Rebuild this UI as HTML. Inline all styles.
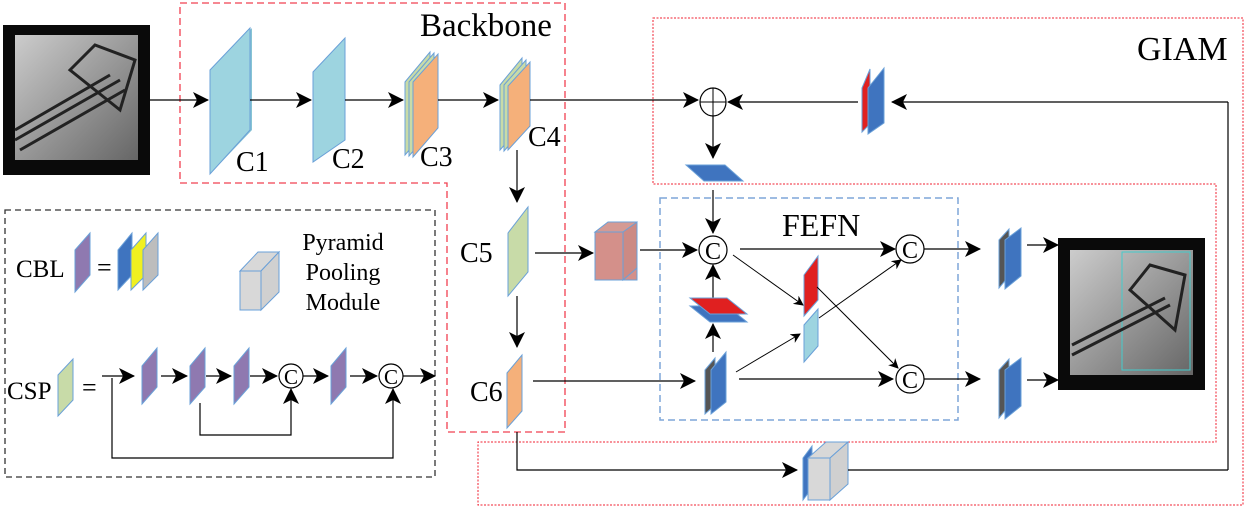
<!DOCTYPE html>
<html><head><style>body{margin:0;background:#fff}svg{display:block}text{font-family:"Liberation Serif",serif;fill:#000}</style></head>
<body>
<svg width="1250" height="510" viewBox="0 0 1250 510" xmlns="http://www.w3.org/2000/svg">
<defs>
<marker id="a" markerWidth="10" markerHeight="10" refX="9" refY="5" orient="auto" markerUnits="userSpaceOnUse"><path d="M0,0 L10,5 L0,10 L3,5 Z" fill="#000"/></marker>
<marker id="b" markerWidth="16" markerHeight="16" refX="15" refY="8" orient="auto" markerUnits="userSpaceOnUse"><path d="M0,0 L16,8 L0,16 L4,8 Z" fill="#000"/></marker>
<linearGradient id="g" x1="0" y1="0" x2="1" y2="1"><stop offset="0" stop-color="#ccc"/><stop offset="0.5" stop-color="#999"/><stop offset="1" stop-color="#666"/></linearGradient>
</defs>
<path d="M180,3 H565 V432 H447 V183 H180 Z" fill="none" stroke="#f04050" stroke-width="1.3" stroke-dasharray="7,4"/>
<text x="420" y="36" font-size="33">Backbone</text>
<path d="M653,18 H1243 V505 H478 V442 H1216 V184 H653 Z" fill="none" stroke="#f02030" stroke-width="1" stroke-dasharray="2,1.5"/>
<text x="1137" y="60" font-size="34">GIAM</text>
<rect x="660" y="198" width="298" height="222" fill="none" stroke="#7fa6d8" stroke-width="1.5" stroke-dasharray="7,4"/>
<text x="782" y="236" font-size="32">FEFN</text>
<rect x="5" y="210" width="430" height="267" fill="none" stroke="#333" stroke-width="1.3" stroke-dasharray="6,4"/>

<rect x="3" y="25" width="147" height="150" fill="#0a0a0a"/>
<rect x="15" y="35" width="123" height="125" fill="url(#g)"/>
<path d="M15,140 L120,80 M15,130 L110,75 M20,150 L125,90" stroke="#222" stroke-width="3"/>
<path d="M70,70 L95,45 L135,60 L120,110 Z" fill="none" stroke="#222" stroke-width="3"/>
<line x1="150" y1="100" x2="208" y2="100" stroke="#000" stroke-width="1.2" marker-end="url(#b)"/>

<polygon points="212,70 252,28 252,130 212,172" fill="#87c4d4"/>
<polygon points="210,70 250,28 250,130 210,174" fill="#9dd4e0" stroke="#6aa0d8"/>
<text x="236" y="171" font-size="28">C1</text>
<line x1="250" y1="100" x2="311" y2="100" stroke="#000" stroke-width="1.2" marker-end="url(#b)"/>
<polygon points="313,72 345,38 345,140 313,162" fill="#9dd4e0" stroke="#6aa0d8"/>
<text x="332" y="168" font-size="28">C2</text>
<line x1="345" y1="100" x2="403" y2="100" stroke="#000" stroke-width="1.2" marker-end="url(#b)"/>
<polygon points="405,82 430,52 430,126 405,155" fill="#c8dba8" stroke="#6aa0d8"/>
<polygon points="409,82 434,53 434,127 409,156" fill="#c8dba8" stroke="#6aa0d8"/>
<polygon points="413,82 438,54 438,128 413,157" fill="#f5b07a" stroke="#6aa0d8"/>
<text x="420" y="166" font-size="28">C3</text>
<line x1="438" y1="100" x2="498" y2="100" stroke="#000" stroke-width="1.2" marker-end="url(#b)"/>
<polygon points="500,85 522,58 522,125 500,150" fill="#c8dba8" stroke="#6aa0d8"/>
<polygon points="504,85 526,60 526,126 504,151" fill="#c8dba8" stroke="#6aa0d8"/>
<polygon points="508,86 530,62 530,126 508,150" fill="#f5b07a" stroke="#6aa0d8"/>
<text x="528" y="146" font-size="28">C4</text>
<line x1="530" y1="100" x2="698" y2="100" stroke="#000" stroke-width="1.2" marker-end="url(#b)"/>
<line x1="517" y1="150" x2="517" y2="202" stroke="#000" stroke-width="1.2" marker-end="url(#b)"/>

<ellipse cx="713" cy="102" rx="13" ry="14" fill="#fff" stroke="#000" stroke-width="1.2"/>
<line x1="700" y1="102" x2="726" y2="102" stroke="#000"/><line x1="713" y1="88" x2="713" y2="116" stroke="#000"/>
<line x1="1228" y1="102" x2="892" y2="102" stroke="#000" stroke-width="1.2" marker-end="url(#b)"/>
<line x1="1228" y1="102" x2="1228" y2="470" stroke="#000" stroke-width="1.2"/>
<polygon points="862,88 870,69 870,124 862,132" fill="#e02020" stroke="#6aa0d8"/>
<polygon points="868,88 884,68 884,123 868,134" fill="#3f74bf" stroke="#6aa0d8"/>
<line x1="858" y1="102" x2="728" y2="102" stroke="#000" stroke-width="1.2" marker-end="url(#b)"/>
<line x1="713" y1="116" x2="713" y2="158" stroke="#000" stroke-width="1.2" marker-end="url(#b)"/>
<polygon points="686,165 725,165 743,181 704,181" fill="#3f74bf" stroke="#6aa0d8"/>
<line x1="713" y1="190" x2="713" y2="233" stroke="#000" stroke-width="1.2" marker-end="url(#b)"/>

<polygon points="508,233 528,207 528,272 508,296" fill="#c8dba8" stroke="#6aa0d8"/>
<text x="460" y="262" font-size="28">C5</text>
<line x1="535" y1="253" x2="593" y2="253" stroke="#000" stroke-width="1.2" marker-end="url(#b)"/>
<polygon points="595,232 637,232 637,280 595,280" fill="#d4908a" stroke="#6aa0d8"/>
<polygon points="595,232 608,222 637,222 637,232" fill="#d49a94" stroke="#6aa0d8"/>
<polygon points="623,232 637,222 637,268 623,280" fill="#cc8a84" stroke="#6aa0d8"/>
<line x1="640" y1="250" x2="697" y2="250" stroke="#000" stroke-width="1.2" marker-end="url(#b)"/>
<line x1="517" y1="296" x2="517" y2="347" stroke="#000" stroke-width="1.2" marker-end="url(#b)"/>
<polygon points="507,373 522,355 522,411 507,428" fill="#f5b07a" stroke="#6aa0d8"/>
<text x="470" y="401" font-size="28">C6</text>
<line x1="533" y1="381" x2="695" y2="381" stroke="#000" stroke-width="1.2" marker-end="url(#b)"/>
<polyline points="517,432 517,470 797,470" fill="none" stroke="#000" stroke-width="1.2" marker-end="url(#b)"/>
<polygon points="803,458 812,446 812,488 803,500" fill="#3f74bf" stroke="#6aa0d8"/>
<polygon points="808,458 830,458 830,500 808,500" fill="#d8d8d8" stroke="#6aa0d8"/>
<polygon points="808,458 826,442 848,442 830,458" fill="#d8d8d8" stroke="#6aa0d8"/>
<polygon points="830,458 848,442 848,484 830,500" fill="#d0d0d0" stroke="#6aa0d8"/>
<line x1="848" y1="470" x2="1228" y2="470" stroke="#000" stroke-width="1.2"/>

<circle cx="713" cy="250" r="14" fill="#fff" stroke="#000" stroke-width="1.2"/><text x="713" y="259" font-size="24" text-anchor="middle">C</text>
<line x1="713" y1="300" x2="713" y2="265" stroke="#000" stroke-width="1.2" marker-end="url(#b)"/>
<polygon points="690,306 727,306 747,322 710,322" fill="#3f74bf" stroke="#6aa0d8"/>
<polygon points="690,298 727,298 747,314 710,314" fill="#e02020" stroke="#6aa0d8"/>
<line x1="713" y1="352" x2="713" y2="324" stroke="#000" stroke-width="1.2" marker-end="url(#b)"/>
<polygon points="705,370 715,358 715,405 705,414" fill="#555" stroke="#6aa0d8"/>
<polygon points="711,370 726,352 726,402 711,414" fill="#3f74bf" stroke="#6aa0d8"/>
<line x1="740" y1="249" x2="895" y2="249" stroke="#000" stroke-width="1.2" marker-end="url(#b)"/>
<line x1="739" y1="379" x2="893" y2="379" stroke="#000" stroke-width="1.2" marker-end="url(#b)"/>
<circle cx="910" cy="249" r="14" fill="#fff" stroke="#000" stroke-width="1.2"/><text x="910" y="258" font-size="24" text-anchor="middle">C</text>
<circle cx="910" cy="379" r="14" fill="#fff" stroke="#000" stroke-width="1.2"/><text x="910" y="388" font-size="24" text-anchor="middle">C</text>
<polygon points="804,275 818,256 818,300 804,316" fill="#e02020" stroke="#6aa0d8"/>
<polygon points="804,325 818,309 818,346 804,362" fill="#9dd4e0" stroke="#6aa0d8"/>
<line x1="733" y1="255" x2="803" y2="305" stroke="#000" stroke-width="1" marker-end="url(#a)"/>
<line x1="817" y1="287" x2="898" y2="368" stroke="#000" stroke-width="1" marker-end="url(#a)"/>
<line x1="736" y1="372" x2="800" y2="334" stroke="#000" stroke-width="1" marker-end="url(#a)"/>
<line x1="819" y1="318" x2="901" y2="260" stroke="#000" stroke-width="1" marker-end="url(#a)"/>
<line x1="924" y1="249" x2="980" y2="249" stroke="#000" stroke-width="1.2" marker-end="url(#b)"/>
<line x1="924" y1="379" x2="980" y2="379" stroke="#000" stroke-width="1.2" marker-end="url(#b)"/>
<polygon points="999,240 1009,229 1009,276 999,288" fill="#555" stroke="#6aa0d8"/>
<polygon points="1005,240 1021,228 1021,276 1005,289" fill="#3f74bf" stroke="#6aa0d8"/>
<polygon points="999,370 1009,359 1009,406 999,418" fill="#555" stroke="#6aa0d8"/>
<polygon points="1005,370 1021,358 1021,406 1005,419" fill="#3f74bf" stroke="#6aa0d8"/>
<line x1="1027" y1="245" x2="1058" y2="245" stroke="#000" stroke-width="1.2" marker-end="url(#b)"/>
<line x1="1027" y1="380" x2="1058" y2="380" stroke="#000" stroke-width="1.2" marker-end="url(#b)"/>
<rect x="1058" y="238" width="147" height="152" fill="#0a0a0a"/>
<rect x="1070" y="250" width="123" height="125" fill="url(#g)"/>
<rect x="1122" y="252" width="68" height="118" fill="none" stroke="#4cc" stroke-width="1"/>
<path d="M1072,355 L1170,305 M1072,345 L1165,298" stroke="#222" stroke-width="3"/>
<path d="M1130,290 L1150,265 L1185,275 L1175,330 Z" fill="none" stroke="#222" stroke-width="3"/>

<text x="16" y="277" font-size="25">CBL</text>
<polygon points="75,250 90,233 90,275 75,292" fill="#8f79b0" stroke="#6aa0d8"/>
<text x="97" y="276" font-size="26">=</text>
<polygon points="118,250 132,233 132,275 118,290" fill="#3f74bf" stroke="#6aa0d8"/>
<polygon points="131,250 146,233 146,275 131,290" fill="#f0f020" stroke="#6aa0d8"/>
<polygon points="143,250 158,233 158,275 143,290" fill="#bdbdbd" stroke="#6aa0d8"/>
<polygon points="240,271 261,271 261,310 240,310" fill="#d8d8d8" stroke="#6aa0d8"/>
<polygon points="240,271 258,252 279,252 261,271" fill="#d8d8d8" stroke="#6aa0d8"/>
<polygon points="261,271 279,252 279,292 261,310" fill="#d0d0d0" stroke="#6aa0d8"/>
<text x="343" y="250" font-size="24" text-anchor="middle">Pyramid</text>
<text x="343" y="280" font-size="24" text-anchor="middle">Pooling</text>
<text x="343" y="310" font-size="24" text-anchor="middle">Module</text>

<text x="7" y="399" font-size="25">CSP</text>
<polygon points="58,375 73,359 73,400 58,416" fill="#c8dba8" stroke="#6aa0d8"/>
<text x="82" y="396" font-size="26">=</text>
<line x1="102" y1="376" x2="134" y2="376" stroke="#000" stroke-width="1.2" marker-end="url(#b)"/>
<polygon points="142,366 157,348 157,387 142,404" fill="#8f79b0" stroke="#6aa0d8"/>
<line x1="161" y1="376" x2="187" y2="376" stroke="#000" stroke-width="1.2" marker-end="url(#b)"/>
<polygon points="190,366 205,348 205,387 190,404" fill="#8f79b0" stroke="#6aa0d8"/>
<line x1="206" y1="376" x2="231" y2="376" stroke="#000" stroke-width="1.2" marker-end="url(#b)"/>
<polygon points="234,366 249,348 249,387 234,404" fill="#8f79b0" stroke="#6aa0d8"/>
<line x1="250" y1="376" x2="277" y2="376" stroke="#000" stroke-width="1.2" marker-end="url(#b)"/>
<circle cx="291" cy="376" r="12" fill="#fff" stroke="#000" stroke-width="1.2"/><text x="291" y="384" font-size="21" text-anchor="middle">C</text>
<line x1="303" y1="376" x2="328" y2="376" stroke="#000" stroke-width="1.2" marker-end="url(#b)"/>
<polygon points="331,366 346,348 346,387 331,404" fill="#8f79b0" stroke="#6aa0d8"/>
<line x1="350" y1="376" x2="377" y2="376" stroke="#000" stroke-width="1.2" marker-end="url(#b)"/>
<circle cx="391" cy="376" r="12" fill="#fff" stroke="#000" stroke-width="1.2"/><text x="391" y="384" font-size="21" text-anchor="middle">C</text>
<line x1="403" y1="376" x2="435" y2="376" stroke="#000" stroke-width="1.2" marker-end="url(#b)"/>
<polyline points="200,403 200,435 291,435 291,389" fill="none" stroke="#000" stroke-width="1.2" marker-end="url(#b)"/>
<polyline points="112,378 112,458 393,458 393,389" fill="none" stroke="#000" stroke-width="1.2" marker-end="url(#b)"/>
</svg>
</body></html>
